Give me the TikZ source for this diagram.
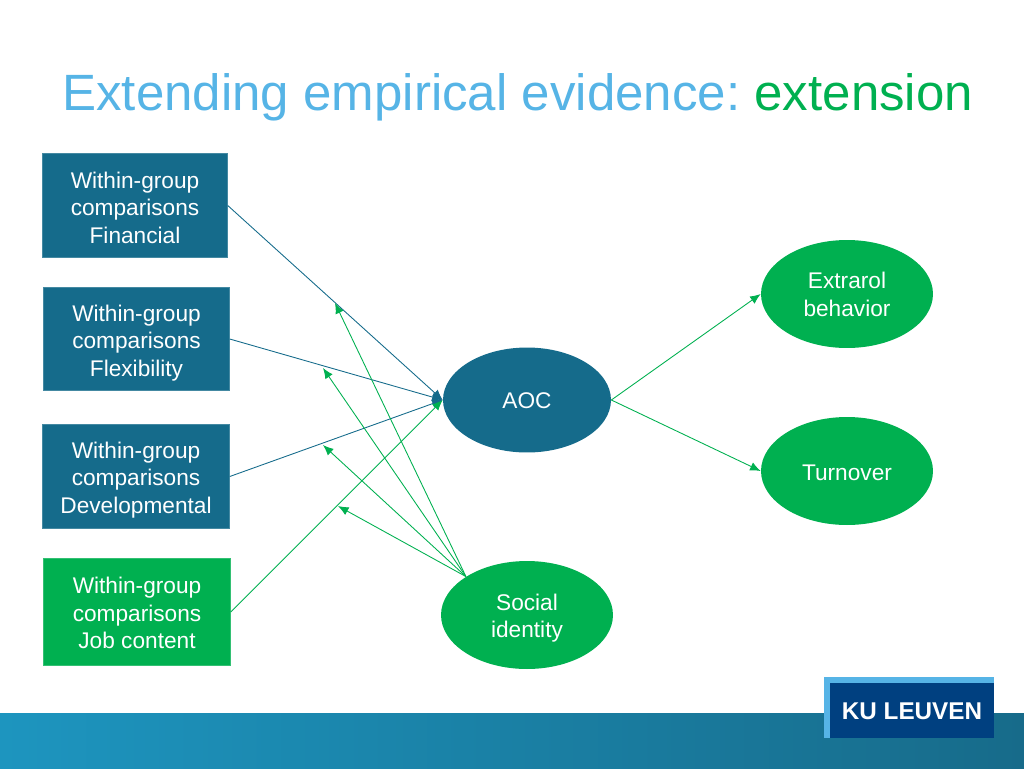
\documentclass[tikz,border=0pt]{standalone}
\usepackage{fontspec}
\setmainfont{Liberation Sans}
\frenchspacing
\usetikzlibrary{shapes.geometric,arrows.meta}

\definecolor{kuteal}{HTML}{156B8B}
\definecolor{kugreen}{HTML}{00B050}
\definecolor{kusky}{HTML}{56B4E6}
\definecolor{kunavy}{HTML}{004080}
\definecolor{bandleft}{HTML}{1D95BF}
\definecolor{bandright}{HTML}{176B8A}

\tikzset{
  labeltext/.style={text=white,font=\fontsize{12.9}{15.6}\selectfont,align=center,inner sep=0pt},
  tealbox/.style={rectangle,fill=kuteal,draw=kuteal!80!white,line width=.3pt,inner sep=0pt},
  greenbox/.style={rectangle,fill=kugreen,draw=kugreen!80!white,line width=.3pt,inner sep=0pt},
  tealoval/.style={ellipse,fill=kuteal,inner sep=0pt},
  greenoval/.style={ellipse,fill=kugreen,inner sep=0pt},
  tealarrow/.style={draw=kuteal,line width=.5pt,-{Latex[length=6pt,width=5pt]}},
  greenarrow/.style={draw=kugreen,line width=.5pt,-{Latex[length=6pt,width=5pt]}},
}

\begin{document}
\begin{tikzpicture}[x=.02cm,y=-.02cm]
\useasboundingbox (0,0) rectangle (1024,768);

% band and logo
\shade[left color=bandleft,right color=bandright] (0,713) rectangle (1024,768);
\fill[kusky] (824,677) rectangle (994,738);
\fill[kunavy] (830,683) rectangle (994,738);
\node[text=white,inner sep=0pt,font=\fontsize{13.8}{14}\selectfont\bfseries] (logo) at (912,711) {KU LEUVEN};

% title
\node[anchor=base west,inner sep=0pt,font=\fontsize{29.05}{30}\selectfont] (title) at (62,110.5)
  {\textcolor{kusky}{Extending empirical evidence:} \textcolor{kugreen}{extension}};

% boxes
\node[tealbox,minimum width=3.7cm,minimum height=2.08cm,label={[labeltext,yshift=-.04cm]center:{Within-group\\comparisons\\Financial}}] (Fin) at (135,205.5) {};
\node[tealbox,minimum width=3.72cm,minimum height=2.06cm,label={[labeltext,yshift=-.08cm]center:{Within-group\\comparisons\\Flexibility}}] (Flex) at (136.5,339) {};
\node[tealbox,minimum width=3.74cm,minimum height=2.08cm,label={[labeltext,yshift=-.07cm]center:{Within-group\\comparisons\\Developmental}}] (Dev) at (136,476.5) {};
\node[greenbox,minimum width=3.74cm,minimum height=2.14cm,label={[labeltext,yshift=-.02cm]center:{Within-group\\comparisons\\Job content}}] (Job) at (137,612) {};

% ovals
\node[tealoval,minimum width=3.36cm,minimum height=2.1cm,label={[labeltext,yshift=-.02cm]center:AOC}] (AOC) at (527,400) {};
\node[greenoval,minimum width=3.44cm,minimum height=2.16cm,label={[labeltext,yshift=-.01cm]center:{Extrarol\\behavior}}] (Ext) at (847,294) {};
\node[greenoval,minimum width=3.44cm,minimum height=2.16cm,label={[labeltext,yshift=-.04cm]center:Turnover}] (Turn) at (847,471) {};
\node[greenoval,minimum width=3.44cm,minimum height=2.16cm,label={[labeltext,yshift=-.06cm]center:{Social\\identity}}] (Soc) at (527,615) {};

% free ends of the moderator arrows
\coordinate (M1) at (335,303);
\coordinate (M2) at (323,368);
\coordinate (M3) at (323,445);
\coordinate (M4) at (338,506);

\draw[tealarrow] (Fin.east) -- (AOC.west);
\draw[tealarrow] (Flex.east) -- (AOC.west);
\draw[tealarrow] (Dev.east) -- (AOC.west);
\draw[greenarrow] (Job.east) -- (AOC.west);
\draw[greenarrow] (AOC.east) -- (Ext.west);
\draw[greenarrow] (AOC.east) -- (Turn.west);
\draw[greenarrow] (Soc.north west) -- (M1);
\draw[greenarrow] (Soc.north west) -- (M2);
\draw[greenarrow] (Soc.north west) -- (M3);
\draw[greenarrow] (Soc.north west) -- (M4);
\end{tikzpicture}
\end{document}
